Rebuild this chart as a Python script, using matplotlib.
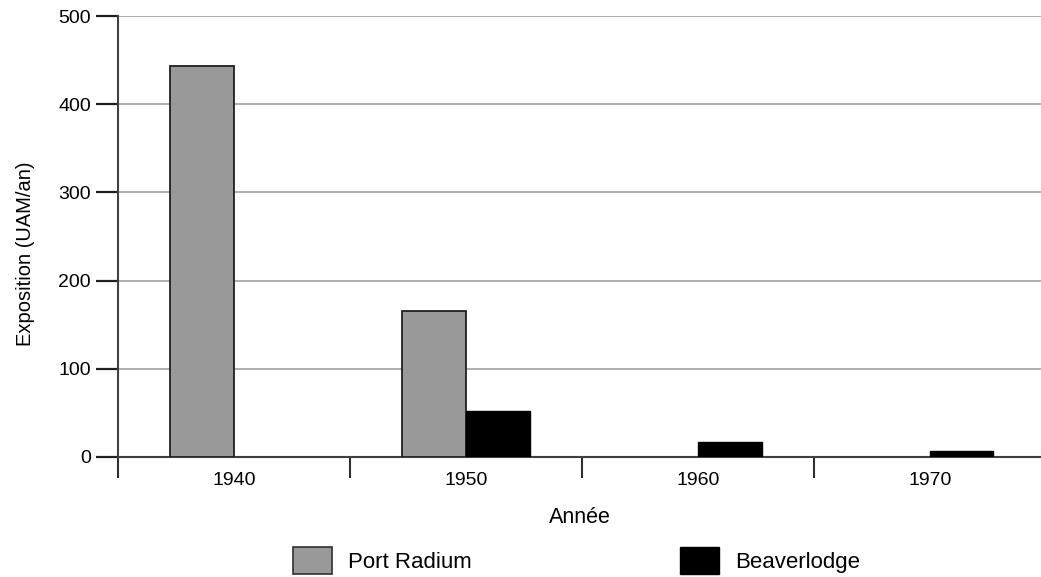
import numpy as np
import matplotlib.pyplot as plt
from matplotlib.ticker import FixedLocator
from matplotlib.patches import Patch

plt.rcParams['font.family'] = ['Liberation Sans', 'DejaVu Sans']

# data
years = ["1940", "1950", "1960", "1970"]
port_radium = [443, 166, 0, 0]
beaverlodge = [0, 52, 17, 7]

fig = plt.figure(figsize=(10.41, 5.77), dpi=100)
ax = fig.add_axes([0.1134, 0.208, 0.8866, 0.764])

x = np.arange(len(years))
w = 0.275
# no outline for empty bars
lw_pr = [1.3 if v else 0 for v in port_radium]
lw_bl = [1.0 if v else 0 for v in beaverlodge]
ax.bar(x - w / 2, port_radium, w, color="#999999", edgecolor="#202020", linewidth=lw_pr, zorder=3)
ax.bar(x + w / 2, beaverlodge, w, color="#000000", edgecolor="#000000", linewidth=lw_bl, zorder=3)

ax.set_xlim(-0.5, 3.48)
ax.set_ylim(0, 500)
ax.set_yticks([0, 100, 200, 300, 400, 500])
ax.yaxis.grid(True, color="#a8a8a8", linewidth=1.3, zorder=0)
ax.set_axisbelow(True)

# category boundaries as major ticks, labels on minor ticks at centers
ax.xaxis.set_major_locator(FixedLocator(np.arange(-0.5, 3.5, 1.0)))
ax.xaxis.set_minor_locator(FixedLocator(x))
ax.set_xticklabels([], minor=False)
ax.set_xticklabels(years, minor=True)
ax.tick_params(axis="x", which="major", direction="out", length=15, width=1.5, color="#303030")
ax.tick_params(axis="x", which="minor", length=0, pad=11, labelsize=14)
ax.tick_params(axis="y", direction="out", length=16, width=1.6, color="#202020", labelsize=14, pad=3.5)

for s in ["top", "right"]:
    ax.spines[s].set_visible(False)
for s in ["left", "bottom"]:
    ax.spines[s].set_color("#404040")
    ax.spines[s].set_linewidth(1.5)

ax.set_xlabel("Année", fontsize=15.5, labelpad=13)
ax.set_ylabel("Exposition (UAM/an)", fontsize=14.5)
ax.yaxis.set_label_coords(-0.09, 0.46)

handles = [Patch(facecolor="#999999", edgecolor="#303030", linewidth=1.2, label="Port Radium"),
           Patch(facecolor="#000000", edgecolor="#000000", label="Beaverlodge")]
fig.legend(handles=handles, loc="lower left", bbox_to_anchor=(0.262, -0.03), ncol=2,
           frameon=False, fontsize=16, handlelength=1.75, handleheight=1.5,
           columnspacing=9.4, handletextpad=0.72)

plt.savefig("out.png", dpi=100)
